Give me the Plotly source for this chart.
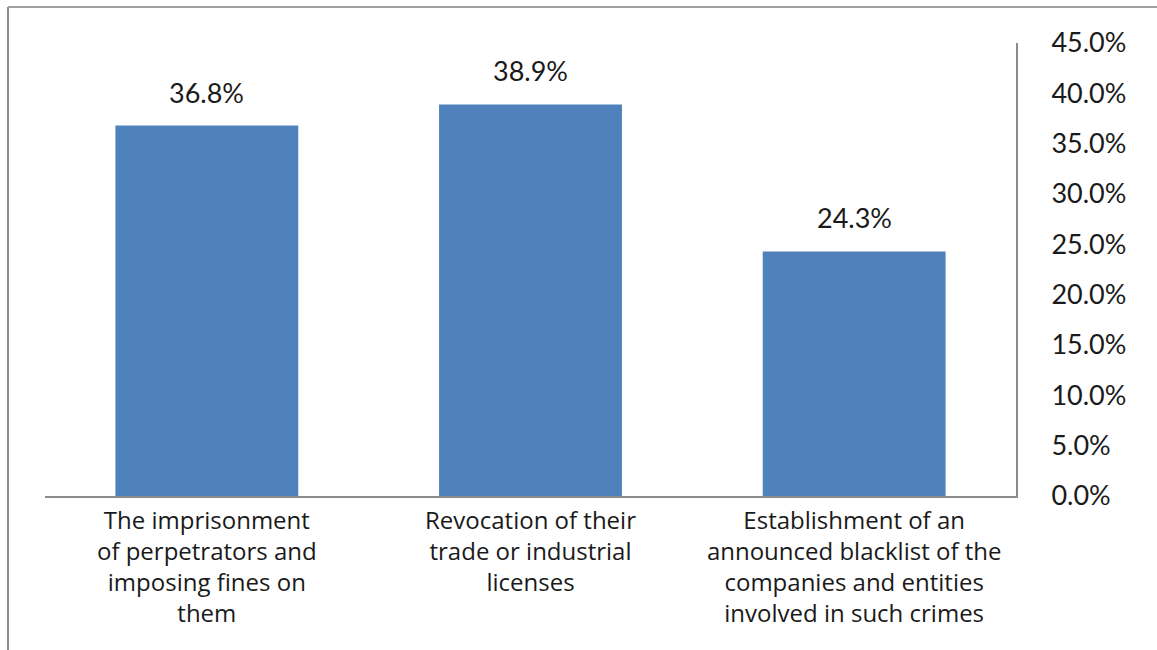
import plotly.graph_objects as go

# Survey results: preferred penalties
categories = [
    "The imprisonment<br>of perpetrators and<br>imposing fines on<br>them",
    "Revocation of their<br>trade or industrial<br>licenses",
    "Establishment of an<br>announced blacklist of the<br>companies and entities<br>involved in such crimes",
]
values = [36.8, 38.9, 24.3]
tick_vals = [0, 5, 10, 15, 20, 25, 30, 35, 40, 45]
tick_text = ["0.0%", "5.0%", "10.0%", "15.0%", "20.0%", "25.0%", "30.0%", "35.0%", "40.0%", "45.0%"]

BAR_COLOR = "#4F81BD"
AXIS_COLOR = "#8C8C8C"
NUM_FONT = "Lato, Carlito, sans-serif"
CAT_FONT = "Open Sans, sans-serif"

fig = go.Figure(
    go.Bar(
        x=categories,
        y=values,
        marker=dict(color=BAR_COLOR, line=dict(width=0)),
        hoverinfo="skip",
    )
)

# value labels above each bar
for cat, val in zip(categories, values):
    fig.add_annotation(
        x=cat, y=val, xref="x", yref="y",
        text=f"{val:.1f}%",
        showarrow=False,
        yanchor="bottom",
        yshift=15,
        font=dict(family=NUM_FONT, size=27, color="#1a1a1a"),
    )

W, H = 1157, 650
ml, mr, mt, mb = 45, 141, 43, 154
pw, ph = W - ml - mr, H - mt - mb

def px_x(p):
    return (p - ml) / pw

def px_y(p):
    return (H - mb - p) / ph

# outer frame lines (left and top)
fig.add_shape(type="line", xref="paper", yref="paper",
              x0=px_x(8), x1=px_x(8), y0=px_y(7), y1=px_y(H + 5),
              line=dict(color="#8C8C8C", width=2))
fig.add_shape(type="line", xref="paper", yref="paper",
              x0=px_x(8), x1=px_x(W + 5), y0=px_y(7), y1=px_y(7),
              line=dict(color="#A0A0A0", width=2))

fig.update_layout(
    width=W, height=H,
    margin=dict(l=ml, r=mr, t=mt, b=mb, pad=0),
    paper_bgcolor="white",
    plot_bgcolor="white",
    bargap=0.435,
    showlegend=False,
    xaxis=dict(
        showline=True, linecolor=AXIS_COLOR, linewidth=2,
        ticks="", showgrid=False,
        tickfont=dict(family=CAT_FONT, size=24, color="#1a1a1a"),
        ticklabelstandoff=2,
        fixedrange=True,
    ),
    yaxis=dict(
        side="right",
        range=[0, 45],
        tickvals=tick_vals, ticktext=tick_text,
        showline=True, linecolor=AXIS_COLOR, linewidth=2,
        ticks="", showgrid=False, zeroline=False,
        tickfont=dict(family=NUM_FONT, size=27, color="#1a1a1a"),
        ticklabelstandoff=28,
        fixedrange=True,
    ),
)

fig.write_html("out.html")
